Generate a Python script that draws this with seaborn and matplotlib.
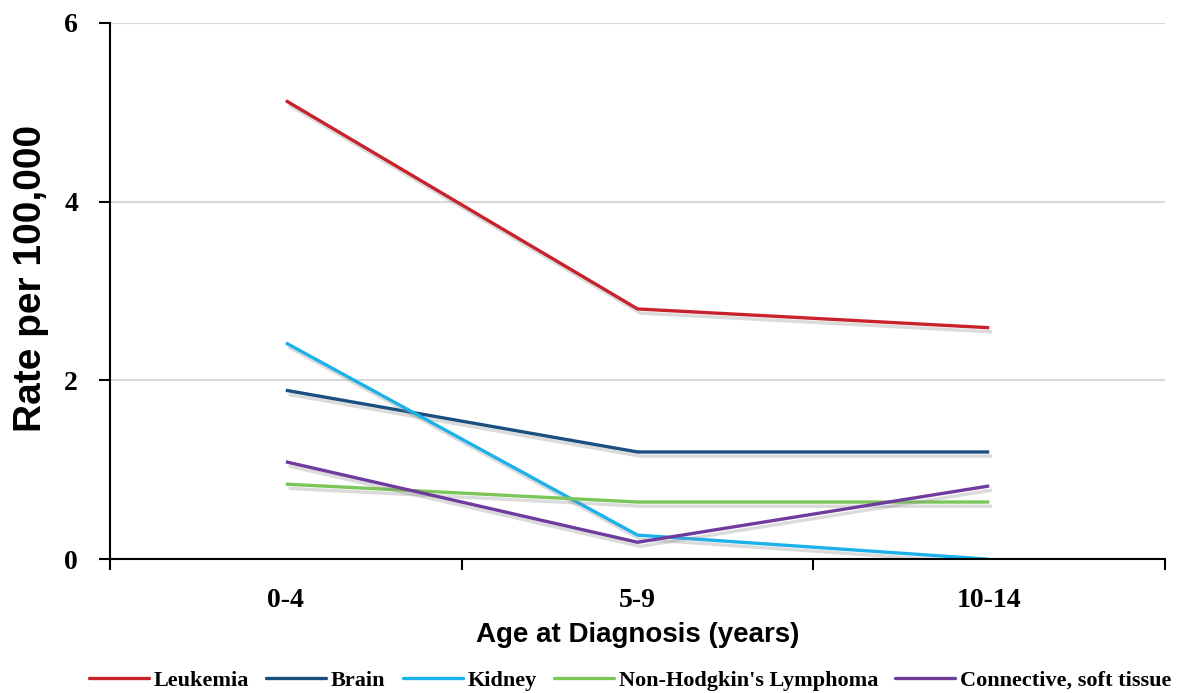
import pandas as pd
import numpy as np
import matplotlib
matplotlib.use("Agg")
import matplotlib.pyplot as plt
import matplotlib.patheffects as pe
from matplotlib.lines import Line2D
from matplotlib.ticker import FixedLocator
import seaborn as sns

# Data
age_groups = ['0-4', '5-9', '10-14']
leukemia = [5.13, 2.80, 2.59]
brain = [1.89, 1.20, 1.20]
kidney = [2.42, 0.27, 0.00]
nhl = [0.84, 0.64, 0.64]
connective = [1.09, 0.19, 0.82]

series_names = ['Leukemia', 'Brain', 'Kidney', "Non-Hodgkin's Lymphoma", 'Connective, soft tissue']
series_values = [leukemia, brain, kidney, nhl, connective]
colors = ['#C8232C', '#1B4F80', '#1CB1EA', '#7CC558', '#6F3C9E']

rows = []
for name, vals in zip(series_names, series_values):
    for age, v in zip(age_groups, vals):
        rows.append({'Age': age, 'Rate': v, 'Cancer': name})
df = pd.DataFrame(rows)

sns.set_style("white")
plt.rcParams['font.family'] = ['Liberation Serif', 'DejaVu Serif']
plt.rcParams['text.color'] = 'black'
plt.rcParams['axes.labelcolor'] = 'black'
plt.rcParams['xtick.color'] = 'black'
plt.rcParams['ytick.color'] = 'black'

fig, ax = plt.subplots(figsize=(11.78, 6.93), dpi=100)
fig.subplots_adjust(left=0.0934, right=0.989, top=0.967, bottom=0.193)

sns.lineplot(data=df, x='Age', y='Rate', hue='Cancer', hue_order=series_names,
             palette=colors, linewidth=2.4, sort=False, legend=False, ax=ax)

# soft drop shadow like the original
shadow = [pe.SimpleLineShadow(offset=(2, -3), shadow_color='#888888', alpha=0.3), pe.Normal()]
for line in ax.lines:
    line.set_path_effects(shadow)
    line.set_solid_capstyle('butt')

# axes / grid
ax.set_xlim(-0.5, 2.5)
ax.set_ylim(0, 6)
ax.set_yticks([0, 2, 4, 6])
ax.yaxis.grid(True, color='#D9D9D9', linewidth=1.5)
ax.set_axisbelow(True)
for s in ['top', 'right']:
    ax.spines[s].set_visible(False)
for s in ['left', 'bottom']:
    ax.spines[s].set_color('black')
    ax.spines[s].set_linewidth(1.5)

ax.set_xticks(range(len(age_groups)))
ax.set_xticklabels(age_groups)
ax.xaxis.set_minor_locator(FixedLocator([-0.5, 0.5, 1.5, 2.5]))
ax.tick_params(axis='x', which='major', length=0, pad=21)
ax.tick_params(axis='x', which='minor', length=8, width=1.5, color='black', direction='out', bottom=True)
ax.tick_params(axis='y', length=8, width=1.5, color='black', direction='out', left=True, pad=15)
for lbl in ax.get_xticklabels() + ax.get_yticklabels():
    lbl.set_fontweight('bold')
    lbl.set_fontsize(20)

ax.set_xlabel('Age at Diagnosis (years)', fontsize=20, fontweight='bold',
              family=['Liberation Sans', 'DejaVu Sans'], labelpad=6)
ax.set_ylabel('Rate per 100,000', fontsize=28, fontweight='bold',
              family=['Liberation Sans', 'DejaVu Sans'])
ax.yaxis.set_label_coords(-0.058, 0.524)

handles = [Line2D([], [], color=c, linewidth=2.4) for c in colors]
fig.legend(handles, series_names, loc='center', bbox_to_anchor=(0.535, 0.018), ncol=5,
           frameon=False, handlelength=2.7, handletextpad=0.22, columnspacing=0.77,
           prop={'family': 'Liberation Serif', 'weight': 'bold', 'size': 16})

fig.savefig('out.png', dpi=100)
